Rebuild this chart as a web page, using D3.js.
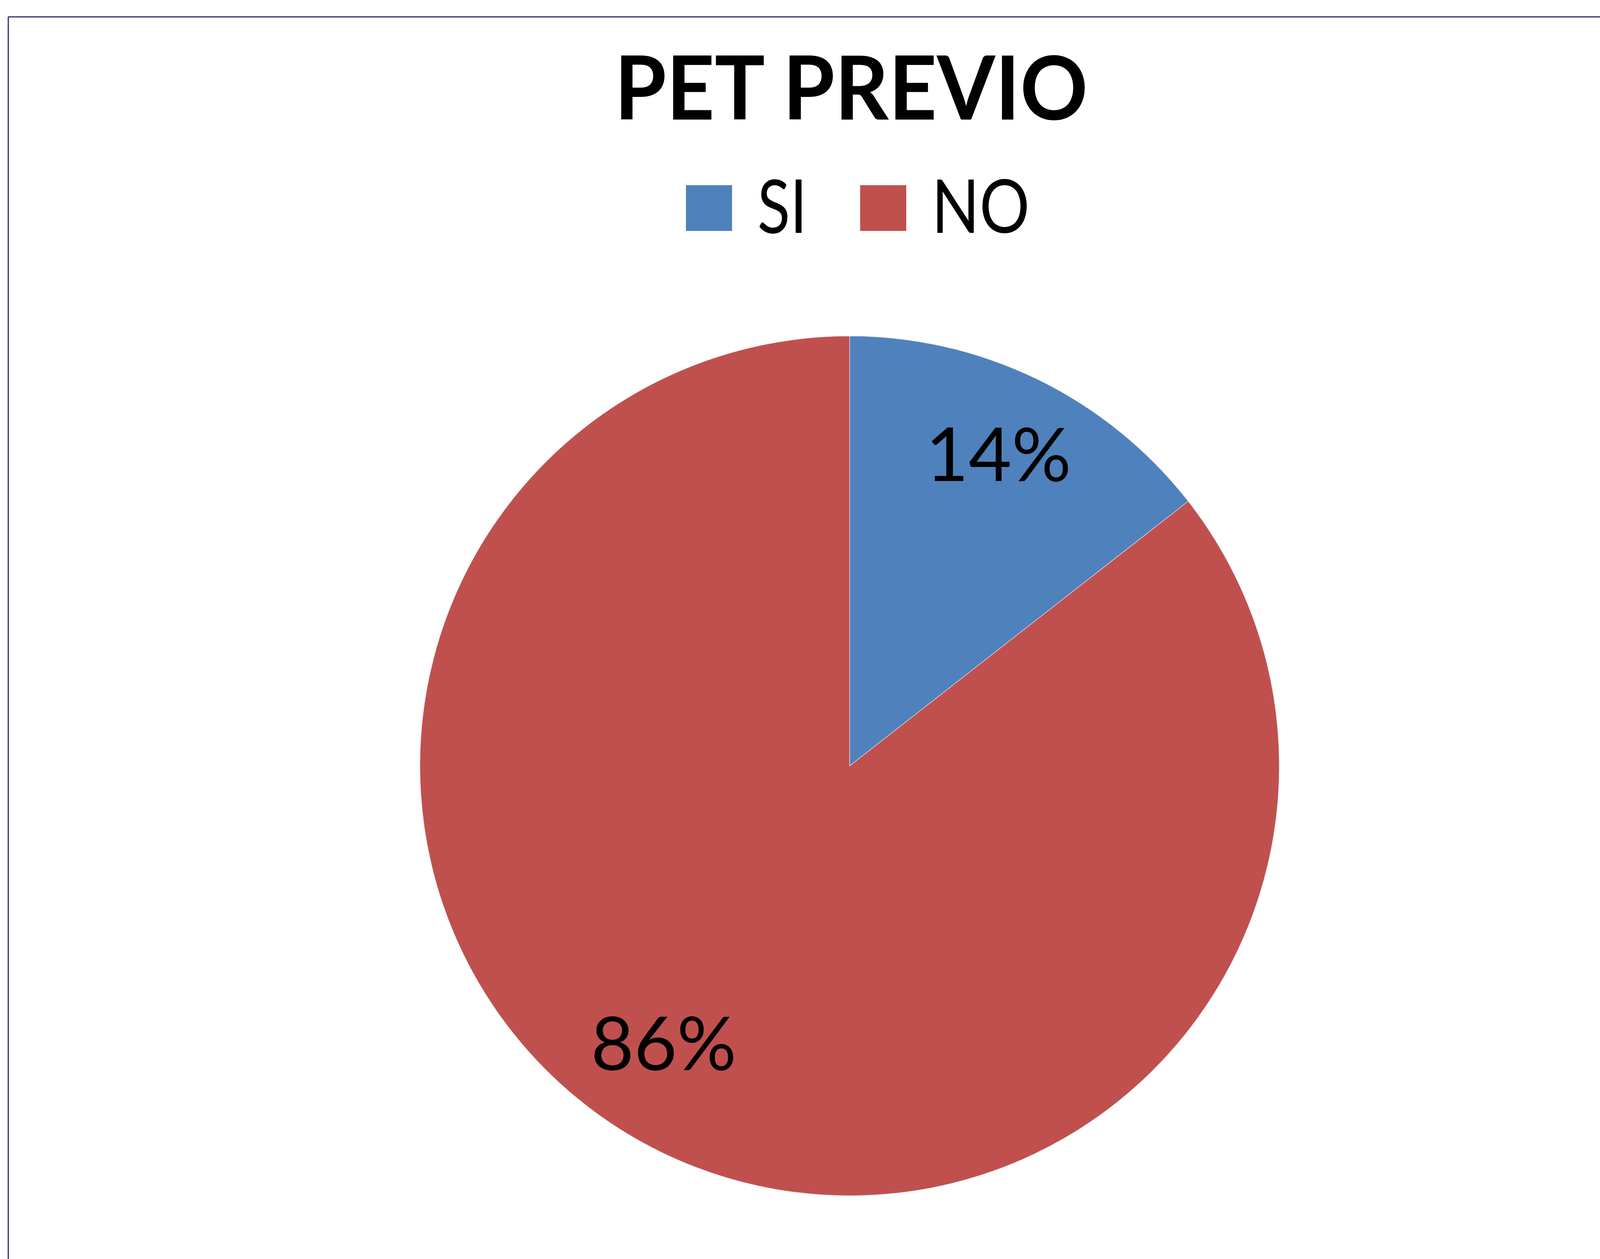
<!DOCTYPE html>
<html>
<head>
<meta charset="utf-8">
<script src="https://cdn.jsdelivr.net/npm/d3@7"></script>
<style>
  html, body { margin: 0; padding: 0; background: #ffffff; }
  svg { display: block; }
</style>
</head>
<body>
<script>
// ---- data ----
const title = "PET PREVIO";
const categories = ["SI", "NO"];
const counts = [13, 77];
const colors = ["#4F81BD", "#C0504D"];

// ---- layout ----
const W = 4280, H = 3222;
const cx = 2175, cy = 1960, R = 1100;
const font = "Lato, 'Open Sans', sans-serif";
// label nudges (px) relative to arc centroid, mimicking Excel's best-fit placement
const labelNudge = [[0, -16], [-95, -71]];

const svg = d3.select("body").append("svg")
  .attr("width", W).attr("height", H);

svg.append("rect").attr("width", W).attr("height", H).attr("fill", "#ffffff");

// chart frame (only top & left edges visible)
svg.append("line").attr("x1", 21).attr("x2", W).attr("y1", 43).attr("y2", 43)
  .attr("stroke", "#1b1b60").attr("stroke-width", 2.5);
svg.append("line").attr("x1", 21).attr("x2", W).attr("y1", 45).attr("y2", 45)
  .attr("stroke", "#9a9ad0").attr("stroke-width", 1.2);
svg.append("line").attr("x1", 21).attr("x2", 21).attr("y1", 43).attr("y2", H)
  .attr("stroke", "#1b1b60").attr("stroke-width", 2.5);
svg.append("line").attr("x1", 23).attr("x2", 23).attr("y1", 45).attr("y2", H)
  .attr("stroke", "#9a9ad0").attr("stroke-width", 1.2);

// title
svg.append("text")
  .attr("x", 2179).attr("y", 306)
  .attr("text-anchor", "middle")
  .attr("font-family", font).attr("font-weight", 700)
  .attr("font-size", 226)
  .attr("fill", "#000")
  .attr("textLength", 1212).attr("lengthAdjust", "spacingAndGlyphs")
  .text(title);

// legend
const legendX = [1756, 2202];
const legendTextLen = [127, 251];
const lg = svg.append("g");
categories.forEach((c, i) => {
  lg.append("rect").attr("x", legendX[i]).attr("y", 474)
    .attr("width", 118).attr("height", 117).attr("fill", colors[i]);
  lg.append("text").attr("x", legendX[i] + 183).attr("y", 596)
    .attr("font-family", font).attr("font-size", 191).attr("fill", "#000")
    .attr("textLength", legendTextLen[i]).attr("lengthAdjust", "spacingAndGlyphs")
    .text(c);
});

// pie
const total = d3.sum(counts);
const pie = d3.pie().sort(null).value(d => d)(counts);
const arc = d3.arc().innerRadius(0).outerRadius(R);
const labelArc = d3.arc().innerRadius(R * 0.79).outerRadius(R * 0.79);
const fmt = d3.format(".0%");

const g = svg.append("g").attr("transform", `translate(${cx},${cy})`);
g.selectAll("path").data(pie).join("path")
  .attr("d", arc)
  .attr("fill", (d, i) => colors[i])
  .attr("stroke", "#e8e8f0").attr("stroke-width", 1.2);

g.selectAll("text").data(pie).join("text")
  .attr("transform", (d, i) => {
    const [x, y] = labelArc.centroid(d);
    return `translate(${x + labelNudge[i][0]},${y + labelNudge[i][1]})`;
  })
  .attr("text-anchor", "middle")
  .attr("dy", "0.36em")
  .attr("font-family", font).attr("font-size", 190).attr("fill", "#000")
  .text(d => fmt(d.data / total));
</script>
</body>
</html>
